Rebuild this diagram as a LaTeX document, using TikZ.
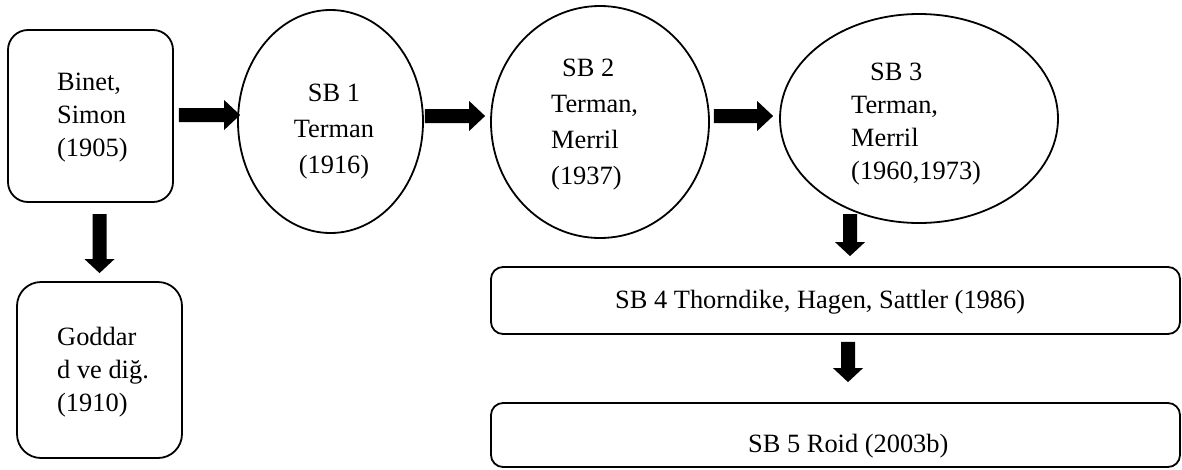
\documentclass[tikz,border=0pt]{standalone}
\usepackage{fontspec}
\setmainfont{Liberation Serif}
\usetikzlibrary{shapes.geometric,calc}
\newcommand\blockR[2]{\fill let \p1=(#1),\p2=(#2) in (\x1,\y1+7pt) -- (\x2-16pt,\y1+7pt) -- (\x2-16pt,\y1+15pt) -- (\x2,\y1) -- (\x2-16pt,\y1-15pt) -- (\x2-16pt,\y1-7pt) -- (\x1,\y1-7pt) -- cycle;}
\newcommand\blockD[2]{\fill let \p1=(#1),\p2=(#2) in (\x1-7pt,\y1) -- (\x1-7pt,\y2+14pt) -- (\x1-15pt,\y2+14pt) -- (\x1,\y2) -- (\x1+15pt,\y2+14pt) -- (\x1+7pt,\y2+14pt) -- (\x1+7pt,\y1) -- cycle;}
\begin{document}
\begin{tikzpicture}[x=1pt,y=-1pt,
  box/.style={draw,line width=1.8pt,rounded corners=#1,inner sep=0pt},
  oval/.style={draw,ellipse,line width=1.8pt,inner sep=0pt},
  txt/.style={inner sep=0pt,font=\fontsize{26.4}{33}\selectfont,align=left}]
\fill[white] (0,0) rectangle (1182,469);
\useasboundingbox (0,0) rectangle (1182,469);
% shapes
\node[box=20pt, minimum width=165pt, minimum height=172pt] (binet) at (90.5,116) {};
\node[box=24pt, minimum width=165pt, minimum height=176pt] (godd) at (99.5,370) {};
\node[oval, minimum width=185pt, minimum height=223pt] (sb1) at (330.5,121.5) {};
\node[oval, minimum width=218pt, minimum height=232pt] (sb2) at (600,122) {};
\node[oval, minimum width=278pt, minimum height=209pt] (sb3) at (919,118.5) {};
\node[box=12pt, minimum width=689pt, minimum height=67pt] (sb4) at (835.5,300.5) {};
\node[box=12pt, minimum width=689pt, minimum height=64pt] (sb5) at (835.5,435) {};
% texts
\node[txt, anchor=west] (binett) at (57,118) {Binet,\\Simon\\(1905)};
\node[txt, anchor=west] (goddt) at (57,372.6) {Goddar\\d ve diğ.\\(1910)};
\node[txt, align=center, font=\fontsize{26.4}{36}\selectfont] (sb1t) at (334,131.6) {SB 1\\Terman\\(1916)};
\node[txt, anchor=west, font=\fontsize{26.4}{36}\selectfont] (sb2t) at (551,125) {\hspace*{11pt}SB 2\\Terman,\\Merril\\(1937)};
\node[txt, anchor=west] (sb3t) at (851,123.6) {\hspace*{19pt}SB 3\\Terman,\\Merril\\(1960,1973)};
\node[txt, anchor=base west] (sb4t) at (615,308) {SB 4 Thorndike, Hagen, Sattler (1986)};
\node[txt, anchor=base west] (sb5t) at (748,452) {SB 5 Roid (2003b)};
% arrow end points
\coordinate (a1s) at ($(binet.east)+(5,-1)$);
\coordinate (a1e) at ($(sb1.west)+(3,0)$);
\coordinate (a2s) at ($(sb1.east)+(1,-5.5)$);
\coordinate (a2e) at ($(sb2.west)+(-5,0)$);
\coordinate (a3s) at ($(sb2.east)+(4,-6)$);
\coordinate (a3e) at ($(sb3.west)+(-6,0)$);
\coordinate (d1s) at ($(godd.north)+(0,-67)$);
\coordinate (d1e) at ($(godd.north)+(0,-8)$);
\coordinate (d2s) at ($(sb4.north)+(14.5,-52)$);
\coordinate (d2e) at ($(sb4.north)+(14.5,-10)$);
\coordinate (d3s) at ($(sb4.south)+(12.5,7)$);
\coordinate (d3e) at ($(sb5.north)+(12.5,-20)$);
% block arrows
\blockR{a1s}{a1e}
\blockR{a2s}{a2e}
\blockR{a3s}{a3e}
\blockD{d1s}{d1e}
\blockD{d2s}{d2e}
\blockD{d3s}{d3e}
\end{tikzpicture}
\end{document}
